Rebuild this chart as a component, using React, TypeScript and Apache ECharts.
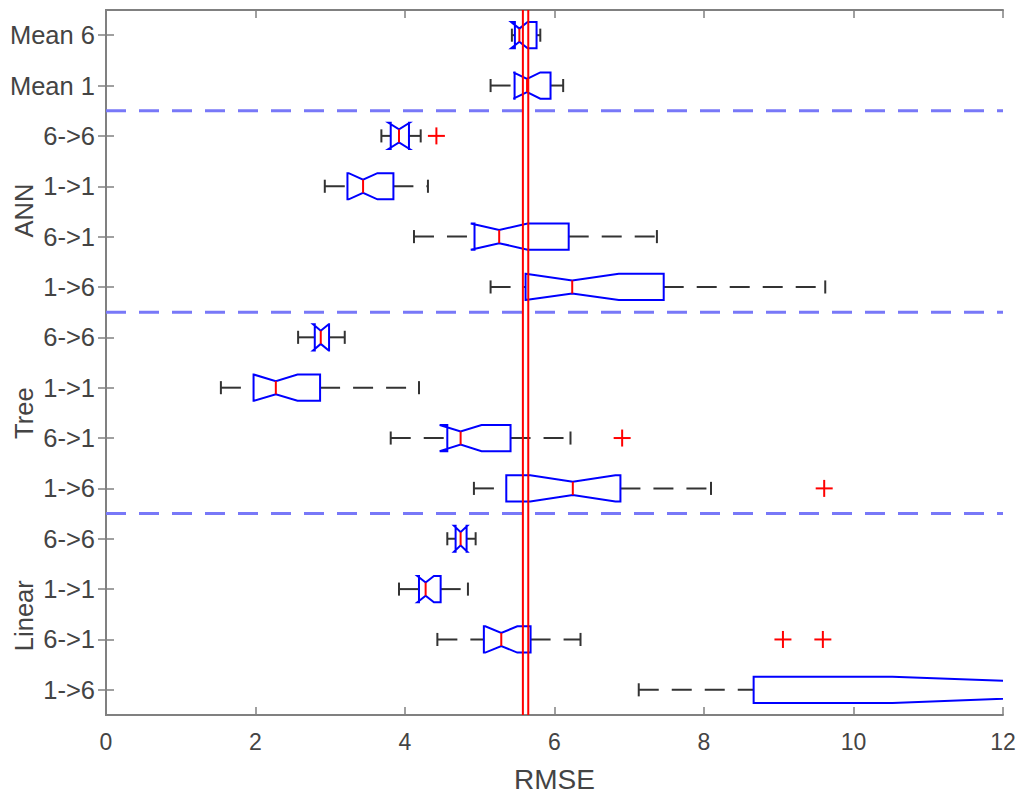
import React, { useEffect, useRef } from "react";
import * as echarts from "echarts";

const categories = ["Mean 6", "Mean 1", "6->6", "1->1", "6->1", "1->6", "6->6", "1->1", "6->1", "1->6", "6->6", "1->1", "6->1", "1->6"];
const groupLabels = ["ANN", "Tree", "Linear"];
const groupCenterBoundary = [4, 8, 12];
const separatorRows = [2, 6, 10];

const lowerWhisker = [5.43, 5.145, 3.684, 2.927, 4.12, 5.145, 2.57, 1.537, 3.809, 4.922, 4.566, 3.92, 4.433, 7.127];
const q1 = [5.47, 5.466, 3.809, 3.23, 4.93, 5.613, 2.793, 1.974, 4.566, 5.355, 4.677, 4.187, 5.055, 8.664];
const median = [5.53, 5.633, 3.92, 3.439, 5.26, 6.237, 2.873, 2.272, 4.744, 6.245, 4.744, 4.276, 5.288, 12.9];
const q3 = [5.76, 5.947, 4.053, 3.845, 6.19, 7.461, 2.984, 2.864, 5.412, 6.882, 4.824, 4.477, 5.68, 15.5];
const upperWhisker = [5.81, 6.116, 4.21, 4.307, 7.37, 9.622, 3.194, 4.187, 6.214, 8.094, 4.945, 4.842, 6.348, 18.0];
const notchLow = [5.42, 5.45, 3.78, 3.247, 4.88, 5.614, 2.77, 1.98, 4.464, 5.675, 4.655, 4.166, 5.074, 10.52];
const notchHigh = [5.64, 5.81, 4.06, 3.631, 5.64, 6.86, 2.98, 2.562, 5.024, 6.815, 4.834, 4.387, 5.502, 15.28];

const outlierRows = [2, 8, 9, 12, 12];
const outlierValues = [4.42, 6.905, 9.608, 9.056, 9.59];

const referenceLines = [5.577, 5.649];

const FONT = "Liberation Sans, Arial, Helvetica, sans-serif";
const TEXT_COLOR = "#444444";
const AXIS_COLOR = "#808080";

const GRID = { left: 106, top: 10, width: 897, height: 709 };

export default function App() {
  const ref = useRef<HTMLDivElement>(null);

  useEffect(() => {
    document.body.style.margin = "0";
    document.body.style.overflow = "hidden";
    document.documentElement.style.overflow = "hidden";
    if (!ref.current) return;
    const chart = echarts.init(ref.current, undefined, { renderer: "svg", width: 1021, height: 798 });

    const boxData = categories.map((_, i) => [
      i,
      lowerWhisker[i],
      q1[i],
      median[i],
      q3[i],
      upperWhisker[i],
      notchLow[i],
      notchHigh[i],
    ]);
    const outlierData = outlierRows.map((r, i) => [outlierValues[i], r]);
    const sepData = separatorRows.map((r) => [0, r]);
    const refData = referenceLines.map((v) => [v, 0]);

    const band = GRID.height / categories.length;

    const option: any = {
      animation: false,
      backgroundColor: "#ffffff",
      grid: { ...GRID, containLabel: false },
      xAxis: [
        {
          type: "value",
          min: 0,
          max: 12,
          interval: 2,
          position: "bottom",
          name: "RMSE",
          nameLocation: "middle",
          nameGap: 50,
          nameTextStyle: { fontSize: 28, color: TEXT_COLOR, fontFamily: FONT },
          axisLine: { show: true, lineStyle: { color: AXIS_COLOR, width: 2 } },
          axisTick: { show: true, inside: true, length: 8, lineStyle: { color: AXIS_COLOR, width: 1.5 } },
          axisLabel: { fontSize: 23, color: TEXT_COLOR, fontFamily: FONT, margin: 15 },
          splitLine: { show: false },
        },
        {
          type: "value",
          min: 0,
          max: 12,
          interval: 2,
          position: "top",
          axisLine: { show: true, lineStyle: { color: AXIS_COLOR, width: 2 } },
          axisTick: { show: true, inside: true, length: 8, lineStyle: { color: AXIS_COLOR, width: 1.5 } },
          axisLabel: { show: false },
          splitLine: { show: false },
        },
      ],
      yAxis: [
        {
          type: "category",
          data: categories,
          inverse: true,
          position: "left",
          axisLine: { show: true, lineStyle: { color: AXIS_COLOR, width: 2 } },
          axisTick: { show: true, inside: true, length: 8, alignWithLabel: true, lineStyle: { color: AXIS_COLOR, width: 1.5 } },
          axisLabel: { fontSize: 25.5, color: TEXT_COLOR, fontFamily: FONT, margin: 11 },
          splitLine: { show: false },
        },
        {
          type: "category",
          data: categories,
          inverse: true,
          position: "right",
          axisLine: { show: true, lineStyle: { color: AXIS_COLOR, width: 2 } },
          axisTick: { show: true, inside: true, length: 8, alignWithLabel: true, lineStyle: { color: AXIS_COLOR, width: 1.5 } },
          axisLabel: { show: false },
          splitLine: { show: false },
        },
      ],
      graphic: groupLabels.map((g, i) => ({
        type: "text",
        x: 24,
        y: GRID.top + band * groupCenterBoundary[i] - 2,
        rotation: Math.PI / 2,
        style: {
          text: g,
          font: `25.5px ${FONT}`,
          fill: TEXT_COLOR,
          textAlign: "center",
          textVerticalAlign: "middle",
        },
      })),
      series: [
        {
          type: "custom",
          name: "separators",
          xAxisIndex: 0,
          yAxisIndex: 0,
          data: sepData,
          encode: { x: 0, y: 1 },
          clip: true,
          renderItem: (params: any, api: any) => {
            const row = api.value(1);
            const bh = api.size([0, 1])[1];
            const y = api.coord([0, row])[1] - bh / 2;
            const cs = params.coordSys;
            return {
              type: "line",
              shape: { x1: cs.x, y1: y, x2: cs.x + cs.width, y2: y },
              style: { stroke: "#7878f8", lineWidth: 3, lineDash: [20, 13] },
            };
          },
        },
        {
          type: "custom",
          name: "boxes",
          xAxisIndex: 0,
          yAxisIndex: 0,
          data: boxData,
          encode: { y: 0, x: [1, 2, 3, 4, 5, 6, 7] },
          clip: true,
          renderItem: (params: any, api: any) => {
            const row = api.value(0);
            const y = api.coord([0, row])[1];
            const bh = api.size([0, 1])[1];
            const hh = bh * 0.26;
            const cap = bh * 0.13;
            const px = (v: number) => api.coord([v, row])[0];
            const lw = px(api.value(1));
            const b1 = px(api.value(2));
            const md = px(api.value(3));
            const b3 = px(api.value(4));
            const uw = px(api.value(5));
            const nl = px(api.value(6));
            const nh = px(api.value(7));
            const top = y - hh;
            const bot = y + hh;
            const whiskerStyle = { stroke: "#333333", lineWidth: 2, lineDash: [20, 13] };
            const capStyle = { stroke: "#333333", lineWidth: 2 };
            const points = [
              [b1, top],
              [nl, top],
              [md, y - hh / 2],
              [nh, top],
              [b3, top],
              [b3, bot],
              [nh, bot],
              [md, y + hh / 2],
              [nl, bot],
              [b1, bot],
            ];
            return {
              type: "group",
              children: [
                { type: "line", shape: { x1: lw, y1: y, x2: b1, y2: y }, style: whiskerStyle },
                { type: "line", shape: { x1: lw, y1: y - cap, x2: lw, y2: y + cap }, style: capStyle },
                { type: "line", shape: { x1: b3, y1: y, x2: uw, y2: y }, style: whiskerStyle },
                { type: "line", shape: { x1: uw, y1: y - cap, x2: uw, y2: y + cap }, style: capStyle },
                { type: "polygon", shape: { points }, style: { fill: "none", stroke: "#0000ff", lineWidth: 2 } },
                { type: "line", shape: { x1: md, y1: y - hh / 2, x2: md, y2: y + hh / 2 }, style: { stroke: "#ff0000", lineWidth: 2 } },
              ],
            };
          },
        },
        {
          type: "custom",
          name: "outliers",
          xAxisIndex: 0,
          yAxisIndex: 0,
          data: outlierData,
          encode: { x: 0, y: 1 },
          clip: true,
          renderItem: (params: any, api: any) => {
            const p = api.coord([api.value(0), api.value(1)]);
            const s = 8.5;
            const st = { stroke: "#ff0000", lineWidth: 2 };
            return {
              type: "group",
              children: [
                { type: "line", shape: { x1: p[0] - s, y1: p[1], x2: p[0] + s, y2: p[1] }, style: st },
                { type: "line", shape: { x1: p[0], y1: p[1] - s, x2: p[0], y2: p[1] + s }, style: st },
              ],
            };
          },
        },
        {
          type: "custom",
          name: "reference",
          xAxisIndex: 0,
          yAxisIndex: 0,
          data: refData,
          encode: { x: 0, y: 1 },
          clip: true,
          renderItem: (params: any, api: any) => {
            const x = api.coord([api.value(0), 0])[0];
            const cs = params.coordSys;
            return {
              type: "line",
              shape: { x1: x, y1: cs.y, x2: x, y2: cs.y + cs.height },
              style: { stroke: "#ff0000", lineWidth: 2 },
            };
          },
        },
      ],
    };

    chart.setOption(option);
    return () => chart.dispose();
  }, []);

  return <div ref={ref} style={{ width: 1021, height: 798 }} />;
}
